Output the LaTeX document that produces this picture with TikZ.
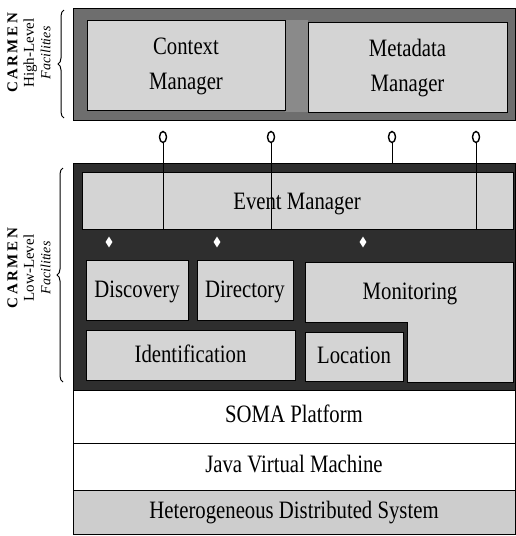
\documentclass[tikz,border=0pt]{standalone}
\usepackage{fontspec}
\setmainfont{Liberation Serif}
\newcommand\nar[2][0.83]{\scalebox{#1}[1]{\begin{tabular}{@{}c@{}}#2\end{tabular}}}
\usetikzlibrary{shapes.geometric,decorations.pathreplacing}
\definecolor{lightbox}{HTML}{D4D4D4}
\definecolor{highframe}{HTML}{6E6E6E}
\definecolor{lowframe}{HTML}{2E2E2E}
\definecolor{gapgray}{HTML}{8A8A8A}
\definecolor{hdsgray}{HTML}{CDCDCD}
\begin{document}
\begin{tikzpicture}[x=1pt,y=-1pt,
  frame/.style={draw=black, line width=0.8pt, inner sep=0pt, outer sep=0pt, anchor=north west},
  box/.style={draw=black, line width=0.8pt, fill=lightbox, inner sep=0pt, outer sep=0pt,
    anchor=north west, align=center, font=\fontsize{25}{35}\selectfont},
  layer/.style={draw=black, line width=0.8pt, inner sep=0pt, outer sep=0pt,
    anchor=north west, minimum width=442pt, font=\fontsize{25}{30}\selectfont},
  port/.style={ellipse, draw=black, line width=1.4pt, fill=white, minimum width=7pt,
    minimum height=11pt, inner sep=0pt},
  gem/.style={diamond, fill=white, draw=none, minimum width=7pt, minimum height=11pt, inner sep=0pt},
  wire/.style={draw=black, line width=1pt},
  side/.style={align=center, rotate=90, inner sep=0pt, font=\fontsize{15}{16.5}\selectfont},
  bracedeco/.style={draw=black, line width=1pt, decorate, decoration={brace, amplitude=6pt}}
]
\useasboundingbox (0,0) rectangle (515,536);

% ---------- High-level facilities ----------
\node[frame, fill=highframe, minimum width=442pt, minimum height=112pt] (high) at (73,8) {};
\fill[gapgray] (285,20) rectangle (308,112);
\node[box, minimum width=198pt, minimum height=90pt] (ctx) at (87,20) {\nar{Context\\Manager}};
\node[box, minimum width=199pt, minimum height=90pt] (meta) at (308,22) {\nar{Metadata\\Manager}};

% ---------- Low-level facilities ----------
\node[frame, fill=lowframe, minimum width=442pt, minimum height=227pt] (low) at (73,163) {};
\node[box, minimum width=431pt, minimum height=57pt] (em) at (82,172) {};
\node[font=\fontsize{25}{30}\selectfont, inner sep=0pt] (emtext) at (297,203) {\nar{Event Manager}};

\node[gem] (g1) at (109,242) {};
\node[gem] (g2) at (217,242) {};
\node[gem] (g3) at (363,242) {};

\node[box, minimum width=102pt, minimum height=60pt] (disc) at (86,260) {\nar{Discovery}};
\node[box, minimum width=96pt, minimum height=60pt] (dir) at (197,260) {\nar{Directory}};
\filldraw[fill=lightbox, draw=black, line width=0.8pt]
  (305,262) -- (513,262) -- (513,382) -- (407,382) -- (407,322) -- (305,322) -- cycle;
\node[font=\fontsize{25}{30}\selectfont, inner sep=0pt] (mon) at (410,293) {\nar{Monitoring}};
\node[box, minimum width=209pt, minimum height=50pt] (ident) at (86,330) {\nar{Identification}};
\node[box, minimum width=98pt, minimum height=49pt] (loc) at (305,332) {\nar{Location}};

% ---------- Platform layers ----------
\node[layer, fill=white, minimum height=53pt] (soma) at (73,390) {\nar{SOMA Platform}};
\node[layer, fill=white, minimum height=47pt] (jvm) at (73,443) {\nar{Java Virtual Machine}};
\node[layer, fill=hdsgray, minimum height=44pt] (hds) at (73,490) {\nar{Heterogeneous Distributed System}};

% ---------- Interface ports ----------
\node[port] (p1) at (163,137) {};
\node[port] (p2) at (271,137) {};
\node[port] (p3) at (392,137) {};
\node[port] (p4) at (476,137) {};
\draw[wire] (p1) -- (p1 |- em.south);
\draw[wire] (p2) -- (p2 |- em.south);
\draw[wire] (p3) -- (p3 |- low.north);
\draw[wire] (p4) -- (p4 |- em.south);

% ---------- Side labels ----------
\draw[bracedeco] (64,118) -- (64,10);
\draw[bracedeco] (63,382) -- (63,168);
\node[side] (hlab) at (29,53) {{\bfseries C\,A\,R\,M\,E\,N}\\High-Level\\{\itshape\fontsize{14}{16.5}\selectfont Facilities}};
\node[side] (llab) at (29,268) {{\bfseries C\,A\,R\,M\,E\,N}\\Low-Level\\{\itshape\fontsize{14}{16.5}\selectfont Facilities}};
\end{tikzpicture}
\end{document}
